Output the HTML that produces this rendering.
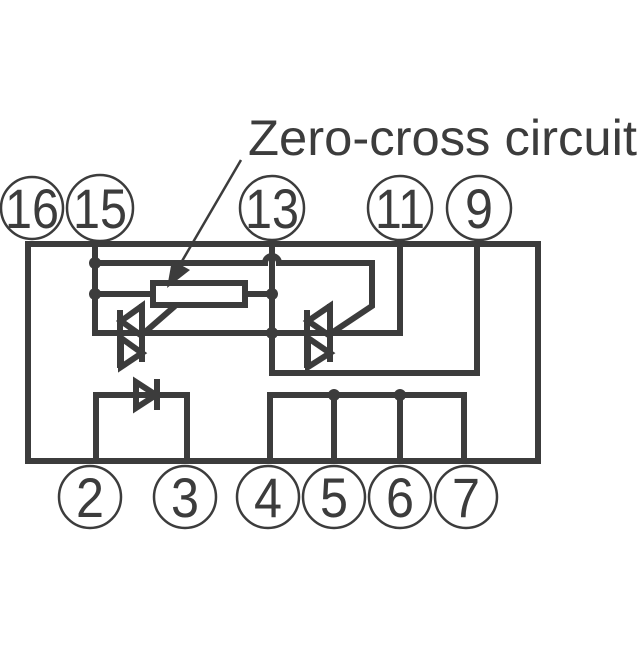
<!DOCTYPE html>
<html><head><meta charset="utf-8"><style>html,body{margin:0;padding:0;background:#fff}</style></head>
<body>
<svg width="640" height="640" viewBox="0 0 640 640" xmlns="http://www.w3.org/2000/svg">
<rect width="640" height="640" fill="#fff"/>
<g stroke="#3c3c3c" stroke-width="6" fill="none" stroke-linejoin="miter">
<rect x="28" y="244" width="510" height="217"/>
<path d="M95 244 V333 H400 V244"/>
<path d="M95 263 H265 A7 7 0 0 1 279 263 H372 V306 L333 332"/>
<path d="M95 294 H153 M245 294 H272"/>
<rect x="153" y="283" width="92" height="22"/>
<path d="M272 244 V373 H477 V244"/>
<path d="M175 306 L144 333"/>
<!-- triac 1 -->
<path d="M120 310 V368 M142 304 V362"/>
<path d="M142 306 L121 321 L142 336 Z"/>
<path d="M121 338 L142 353 L121 367 Z"/>
<!-- triac 2 -->
<path d="M307 310 V368 M330 304 V362"/>
<path d="M330 306 L308 321 L330 336 Z"/>
<path d="M308 338 L330 353 L308 367 Z"/>
<!-- diode -->
<path d="M96 461 V395 H187 V461"/>
<path d="M157 379 V410"/>
<path d="M136 382 L156 395 L136 408 Z"/>
<path d="M270 461 V395 H464 V461 M334 395 V461 M400 395 V461"/>
</g>
<g fill="#3c3c3c">
<circle cx="95" cy="263" r="6"/><circle cx="95" cy="294" r="6"/>
<circle cx="272" cy="294" r="6"/><circle cx="272" cy="333" r="6"/>
<circle cx="334" cy="395" r="6"/><circle cx="400" cy="395" r="6"/>
<path d="M167 288 L172 260 L190 270 Z"/>
</g>
<line x1="241" y1="160" x2="178" y2="268" stroke="#3c3c3c" stroke-width="2.5"/>
<g stroke="#3c3c3c" stroke-width="2.5" fill="#fff">
<circle cx="32" cy="208" r="31"/><circle cx="100" cy="208" r="33"/>
<circle cx="272" cy="208" r="32"/><circle cx="400" cy="208" r="32"/><circle cx="479" cy="208" r="32"/>
<circle cx="90" cy="497" r="31"/><circle cx="185" cy="497" r="31"/><circle cx="268" cy="497" r="31"/>
<circle cx="334" cy="497" r="31"/><circle cx="400" cy="497" r="31"/><circle cx="466" cy="497" r="31"/>
</g>
<g fill="#3c3c3c" font-family="Liberation Sans, sans-serif" font-size="56" text-anchor="middle">
<text x="32" y="228" textLength="54" lengthAdjust="spacingAndGlyphs">16</text>
<text x="100" y="228" textLength="54" lengthAdjust="spacingAndGlyphs">15</text>
<text x="272" y="228" textLength="54" lengthAdjust="spacingAndGlyphs">13</text>
<text x="400" y="228" textLength="50" lengthAdjust="spacingAndGlyphs">11</text>
<text x="479" y="228" textLength="28" lengthAdjust="spacingAndGlyphs">9</text>
<text x="90" y="517" textLength="28" lengthAdjust="spacingAndGlyphs">2</text>
<text x="185" y="517" textLength="28" lengthAdjust="spacingAndGlyphs">3</text>
<text x="268" y="517" textLength="28" lengthAdjust="spacingAndGlyphs">4</text>
<text x="334" y="517" textLength="28" lengthAdjust="spacingAndGlyphs">5</text>
<text x="400" y="517" textLength="28" lengthAdjust="spacingAndGlyphs">6</text>
<text x="466" y="517" textLength="28" lengthAdjust="spacingAndGlyphs">7</text>
<text x="248" y="155" text-anchor="start" font-size="50" textLength="389" lengthAdjust="spacingAndGlyphs">Zero-cross circuit</text>
</g>
</svg>
</body></html>
